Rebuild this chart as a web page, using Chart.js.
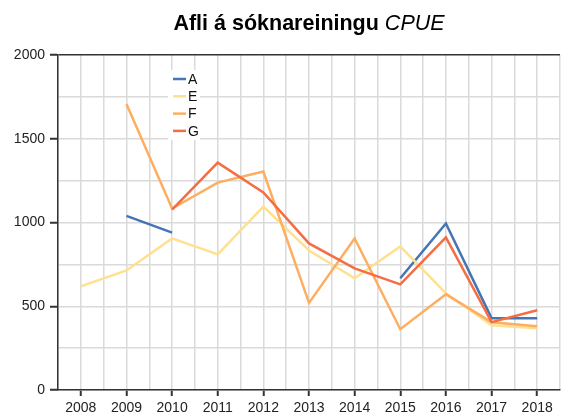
<!DOCTYPE html>
<html>
<head>
<meta charset="utf-8">
<script src="https://cdn.jsdelivr.net/npm/chart.js@4.4.1/dist/chart.umd.min.js"></script>
<style>
html,body{margin:0;padding:0;background:#fff;}
canvas{display:block;}
</style>
</head>
<body>
<canvas id="c" width="564" height="414"></canvas>
<script>
const years = [2008, 2009, 2010, 2011, 2012, 2013, 2014, 2015, 2016, 2017, 2018];
const seriesA = [null, 1040, 940, null, null, null, null, 667, 994, 429, 429];
const seriesE = [619, 714, 905, 810, 1095, 833, 667, 857, 577, 387, 369];
const seriesF = [null, 1708, 1083, 1238, 1304, 520, 905, 363, 571, 405, 381];
const seriesG = [null, null, 1077, 1357, 1179, 875, 726, 631, 911, 405, 476];
const seriesNames = ['A', 'E', 'F', 'G'];
const seriesColors = ['#4575b4', '#fee090', '#fdae61', '#f46d43'];
const titleBold = 'Afli á sóknareiningu ';
const titleItalic = 'CPUE';
const yTicks = [0, 500, 1000, 1500, 2000];

const FONT = '"Liberation Sans", Arial, sans-serif';

function pts(arr) { return years.map((y, i) => ({x: y, y: arr[i]})); }

const allSeries = [seriesA, seriesE, seriesF, seriesG];
const datasets = allSeries.map((s, i) => ({
  label: seriesNames[i],
  data: pts(s),
  borderColor: seriesColors[i],
  backgroundColor: seriesColors[i],
  borderWidth: 2.5,
  pointRadius: 0,
  tension: 0,
  spanGaps: false,
  order: 4 - i
}));

const titlePlugin = {
  id: 'mixedTitle',
  afterDraw(chart) {
    const ctx = chart.ctx;
    ctx.save();
    ctx.fillStyle = '#000';
    ctx.textBaseline = 'alphabetic';
    ctx.font = 'bold 21.5px ' + FONT;
    const w1 = ctx.measureText(titleBold).width;
    ctx.font = 'italic 21.5px ' + FONT;
    const w2 = ctx.measureText(titleItalic).width;
    const ca = chart.chartArea;
    const cx = (ca.left + ca.right) / 2;
    const x0 = cx - (w1 + w2) / 2;
    ctx.font = 'bold 21.5px ' + FONT;
    ctx.fillText(titleBold, x0, 30);
    ctx.font = 'italic 21.5px ' + FONT;
    ctx.fillText(titleItalic, x0 + w1, 30);
    ctx.restore();
  }
};

const legendPlugin = {
  id: 'innerLegend',
  afterDatasetsDraw(chart) {
    const ctx = chart.ctx;
    ctx.save();
    ctx.fillStyle = '#fff';
    ctx.fillRect(168, 70, 32, 70);
    ctx.font = '14px ' + FONT;
    ctx.textBaseline = 'middle';
    chart.data.datasets.forEach((ds, i) => {
      const y = 79 + i * 17.3;
      ctx.strokeStyle = ds.borderColor;
      ctx.lineWidth = 2.5;
      ctx.beginPath();
      ctx.moveTo(173, y);
      ctx.lineTo(186, y);
      ctx.stroke();
      ctx.fillStyle = '#111';
      ctx.fillText(ds.label, 188, y + 1);
    });
    ctx.restore();
  }
};

new Chart(document.getElementById('c'), {
  type: 'line',
  data: { datasets },
  options: {
    responsive: false,
    animation: false,
    devicePixelRatio: 1,
    layout: { padding: { top: 55, left: 0, right: 0, bottom: 0 } },
    plugins: { legend: { display: false }, title: { display: false }, tooltip: { enabled: false } },
    scales: {
      x: {
        type: 'linear',
        min: 2007.5,
        max: 2018.5,
        afterFit(scale) { scale.height = 24; },
        ticks: {
          stepSize: 0.5,
          autoSkip: false,
          maxRotation: 0,
          padding: 4,
          color: '#222',
          font: { family: FONT, size: 14 },
          callback: v => (Number.isInteger(v) && years.includes(v)) ? String(v) : ''
        },
        grid: {
          color: '#dadada',
          lineWidth: 1.5,
          drawTicks: true,
          tickLength: 6,
          tickWidth: 2,
          tickColor: c => (c.tick && Number.isInteger(c.tick.value) && years.includes(c.tick.value)) ? '#333' : 'rgba(0,0,0,0)'
        },
        border: { display: true, color: '#333', width: 1.5 }
      },
      y: {
        min: 0,
        max: 2000,
        afterFit(scale) { scale.width = 58; },
        ticks: {
          stepSize: 250,
          padding: 5,
          color: '#222',
          font: { family: FONT, size: 14 },
          callback: v => yTicks.includes(v) ? String(v) : ''
        },
        grid: {
          color: c => (c.tick && c.tick.value === 2000) ? '#333' : '#dadada',
          lineWidth: 1.5,
          drawTicks: true,
          tickLength: 8,
          tickWidth: 2,
          tickColor: c => (c.tick && yTicks.includes(c.tick.value)) ? '#333' : 'rgba(0,0,0,0)'
        },
        border: { display: true, color: '#333', width: 1.5 }
      }
    }
  },
  plugins: [legendPlugin, titlePlugin]
});
</script>
</body>
</html>
